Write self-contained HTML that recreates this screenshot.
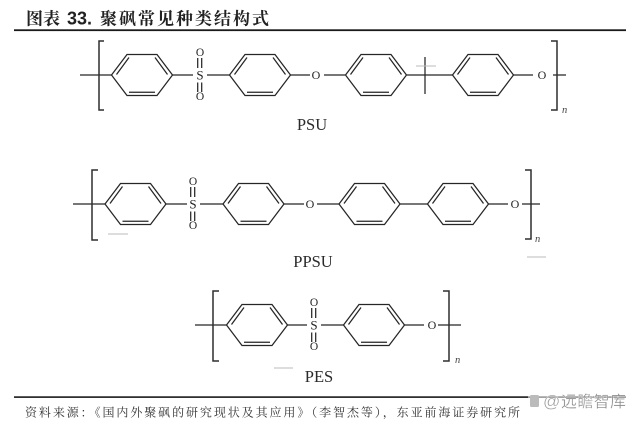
<!DOCTYPE html>
<html><head><meta charset="utf-8">
<style>
html,body{margin:0;padding:0;background:#fff}
svg{display:block}
.b{stroke:#262626;stroke-width:1.25;fill:none}
.br{stroke:#2e2e2e;stroke-width:1.5;fill:none}
.f{stroke:#bbb;stroke-width:1;fill:none}
.t{font-family:"Liberation Serif","Noto Serif CJK SC",serif;fill:#222}
.a{font-size:12px;text-anchor:middle}
.l{font-size:16.5px;text-anchor:middle;fill:#2a2a2a}
.n{font-size:10.5px;font-style:italic;fill:#444}
</style></head><body>
<svg width="640" height="425" viewBox="0 0 640 425" xmlns="http://www.w3.org/2000/svg">
<defs>
<g id="r" class="b">
<path d="M-30.500 0L-15 -20.500L15 -20.500L30.500 0L15 20.500L-15 20.500Z"/>
<path d="M-25.500 -0.500L-13 -17.500M25.500 -0.500L13 -17.500M-13 17.300L13 17.300"/>
</g>
<g id="s">
<path class="b" d="M-2.300 -17V-7M1.700 -17V-7M-2.300 7.500V17M1.700 7.500V17"/>
<text class="t a" x="0" y="-19" style="font-size:11.500px">O</text>
<text class="t a" x="0" y="25" style="font-size:11.500px">O</text>
<text class="t a" x="0" y="4.500" style="font-size:13px">S</text>
</g>
</defs>

<text x="26" y="24.500" font-family="'Noto Serif CJK SC','Noto Sans CJK SC',serif" font-weight="700" font-size="17" fill="#222" textLength="34" lengthAdjust="spacing">图表</text>
<text x="67" y="24.500" font-family="'Liberation Sans',sans-serif" font-weight="700" font-size="18" fill="#222">33.</text>
<text x="100" y="24.500" font-family="'Noto Serif CJK SC','Noto Sans CJK SC',serif" font-weight="700" font-size="17" fill="#222" textLength="169" lengthAdjust="spacing">聚砜常见种类结构式</text>
<rect x="14" y="29.300" width="612" height="1.800" fill="#1a1a1a"/>

<!-- PSU -->
<use href="#r" x="142" y="75"/><use href="#r" x="260" y="75"/><use href="#r" x="376" y="75"/><use href="#r" x="483" y="75"/>
<use href="#s" x="200" y="75"/>
<path class="b" d="M80 75H112M172 75H193M207 75H230M290 75H310M324 75H345M407 75H453M513 75H533M553 75H566M425 57V94"/>
<path class="f" d="M416 66H436"/>
<path class="br" d="M104 41H99V110H104M551 41H557V110H551"/>
<text class="t a" x="316" y="79">O</text><text class="t a" x="542" y="79">O</text>
<text class="t n" x="562" y="113">n</text>
<text class="t l" x="312" y="130">PSU</text>

<!-- PPSU -->
<use href="#r" x="135.500" y="204"/><use href="#r" x="253.500" y="204"/><use href="#r" x="369.500" y="204"/><use href="#r" x="458" y="204"/>
<use href="#s" x="193" y="204"/>
<path class="b" d="M73 204H105M166 204H187M200 204H223M284 204H304M317 204H339M400 204H428M488 204H508M522 204H540"/>
<path class="br" d="M98 170H92V240H98M525 170H531V239H525"/>
<text class="t a" x="310" y="208">O</text><text class="t a" x="515" y="208">O</text>
<text class="t n" x="535" y="242">n</text>
<path class="f" d="M108 234H128M527 257H546"/>
<text class="t l" x="313" y="267">PPSU</text>

<!-- PES -->
<use href="#r" x="257" y="325"/><use href="#r" x="374" y="325"/>
<use href="#s" x="314" y="325"/>
<path class="b" d="M195 325H227M287 325H307M321 325H344M404 325H424M438 325H461"/>
<path class="br" d="M219 291H213V361H219M443 291H449V361H443"/>
<text class="t a" x="432" y="329">O</text>
<text class="t n" x="455" y="363">n</text>
<path class="f" d="M274 368H293"/>
<text class="t l" x="319" y="382">PES</text>

<!-- Footer -->
<rect x="14" y="396.300" width="612" height="1.600" fill="#1a1a1a"/>
<text x="25" y="416.500" font-family="'Noto Serif CJK SC','Noto Sans CJK SC',serif" font-size="12" fill="#333" textLength="495" lengthAdjust="spacing">资料来源：《国内外聚砜的研究现状及其应用》（李智杰等），东亚前海证券研究所</text>

<!-- Watermark -->
<rect x="528" y="393" width="98" height="17" fill="#fff" opacity=".55"/>
<rect x="530" y="395" width="9" height="12" rx="1.500" fill="#bbb"/>
<text x="543" y="407" font-family="'Liberation Sans',sans-serif" font-size="17" fill="#999" stroke="#fff" stroke-width=".3">@</text>
<text x="561" y="407" font-family="'Noto Sans CJK SC',sans-serif" font-size="16" fill="#888" stroke="#fff" stroke-width=".3" textLength="65" lengthAdjust="spacing">远瞻智库</text>
</svg>
</body></html>
